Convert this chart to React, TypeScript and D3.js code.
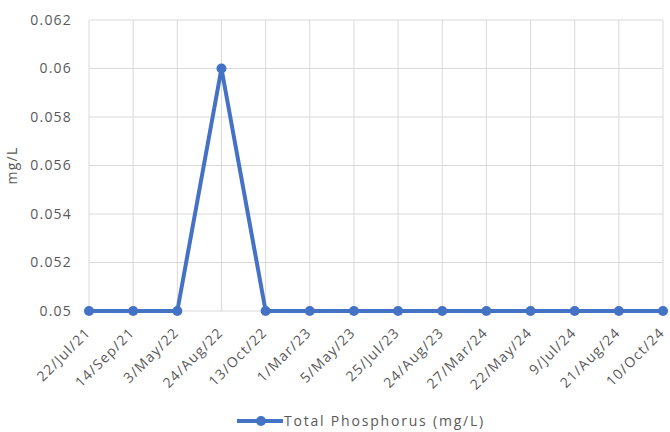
import React from "react";
import * as d3 from "d3";

const categories = ["22/Jul/21","14/Sep/21","3/May/22","24/Aug/22","13/Oct/22","1/Mar/23","5/May/23","25/Jul/23","24/Aug/23","27/Mar/24","22/May/24","9/Jul/24","21/Aug/24","10/Oct/24"];
const values = [0.05,0.05,0.05,0.06,0.05,0.05,0.05,0.05,0.05,0.05,0.05,0.05,0.05,0.05];
const yTicks = [0.05,0.052,0.054,0.056,0.058,0.06,0.062];
const yTickLabels = ["0.05","0.052","0.054","0.056","0.058","0.06","0.062"];
const seriesName = "Total Phosphorus (mg/L)";

export default function App() {
  const W = 670, H = 432;
  const left = 89, right = 663, top = 20, bottom = 311;
  const x = d3.scalePoint<string>().domain(categories).range([left, right]);
  const y = d3.scaleLinear().domain([0.05, 0.062]).range([bottom, top]);
  const line = d3.line<number>().x((_, i) => x(categories[i])!).y(d => y(d));
  const font = "'Open Sans', 'Liberation Sans', sans-serif";
  const color = "#4472C4";
  const grid = "#d9d9d9";
  const text = "#595959";
  const ls = 1.2;
  return (
    <svg width={W} height={H} style={{ position: "absolute", left: 0, top: 0, background: "#fff" }} fontFamily={font}>
      {yTicks.map((t) => (
        <line key={"h" + t} x1={left} x2={right} y1={y(t)} y2={y(t)} stroke={grid} strokeWidth={1} />
      ))}
      {categories.map((c) => (
        <line key={"v" + c} x1={x(c)} x2={x(c)} y1={top} y2={bottom} stroke={grid} strokeWidth={1} />
      ))}
      {yTicks.map((t, i) => (
        <text key={"yl" + t} x={left - 17} y={y(t)} dy="0.35em" textAnchor="end" fontSize={14} letterSpacing={ls} fill={text}>{yTickLabels[i]}</text>
      ))}
      {categories.map((c) => (
        <text key={"xl" + c} transform={`translate(${x(c)! - 1},${bottom + 19}) rotate(-45)`} textAnchor="end" dy="0.35em" fontSize={14} letterSpacing={ls} fill={text}>{c}</text>
      ))}
      <text transform={`translate(17,${(top + bottom) / 2}) rotate(-90)`} textAnchor="middle" fontSize={14} letterSpacing={ls} fill={text}>mg/L</text>
      <path d={line(values) || ""} fill="none" stroke={color} strokeWidth={4} strokeLinejoin="round" />
      {values.map((v, i) => (
        <circle key={"p" + i} cx={x(categories[i])} cy={y(v)} r={5} fill={color} />
      ))}
      <line x1={237} x2={283} y1={421} y2={421} stroke={color} strokeWidth={4} />
      <circle cx={261} cy={421} r={5} fill={color} />
      <text x={284} y={421} dy="0.35em" fontSize={14} letterSpacing={1.8} fill={text}>{seriesName}</text>
    </svg>
  );
}
